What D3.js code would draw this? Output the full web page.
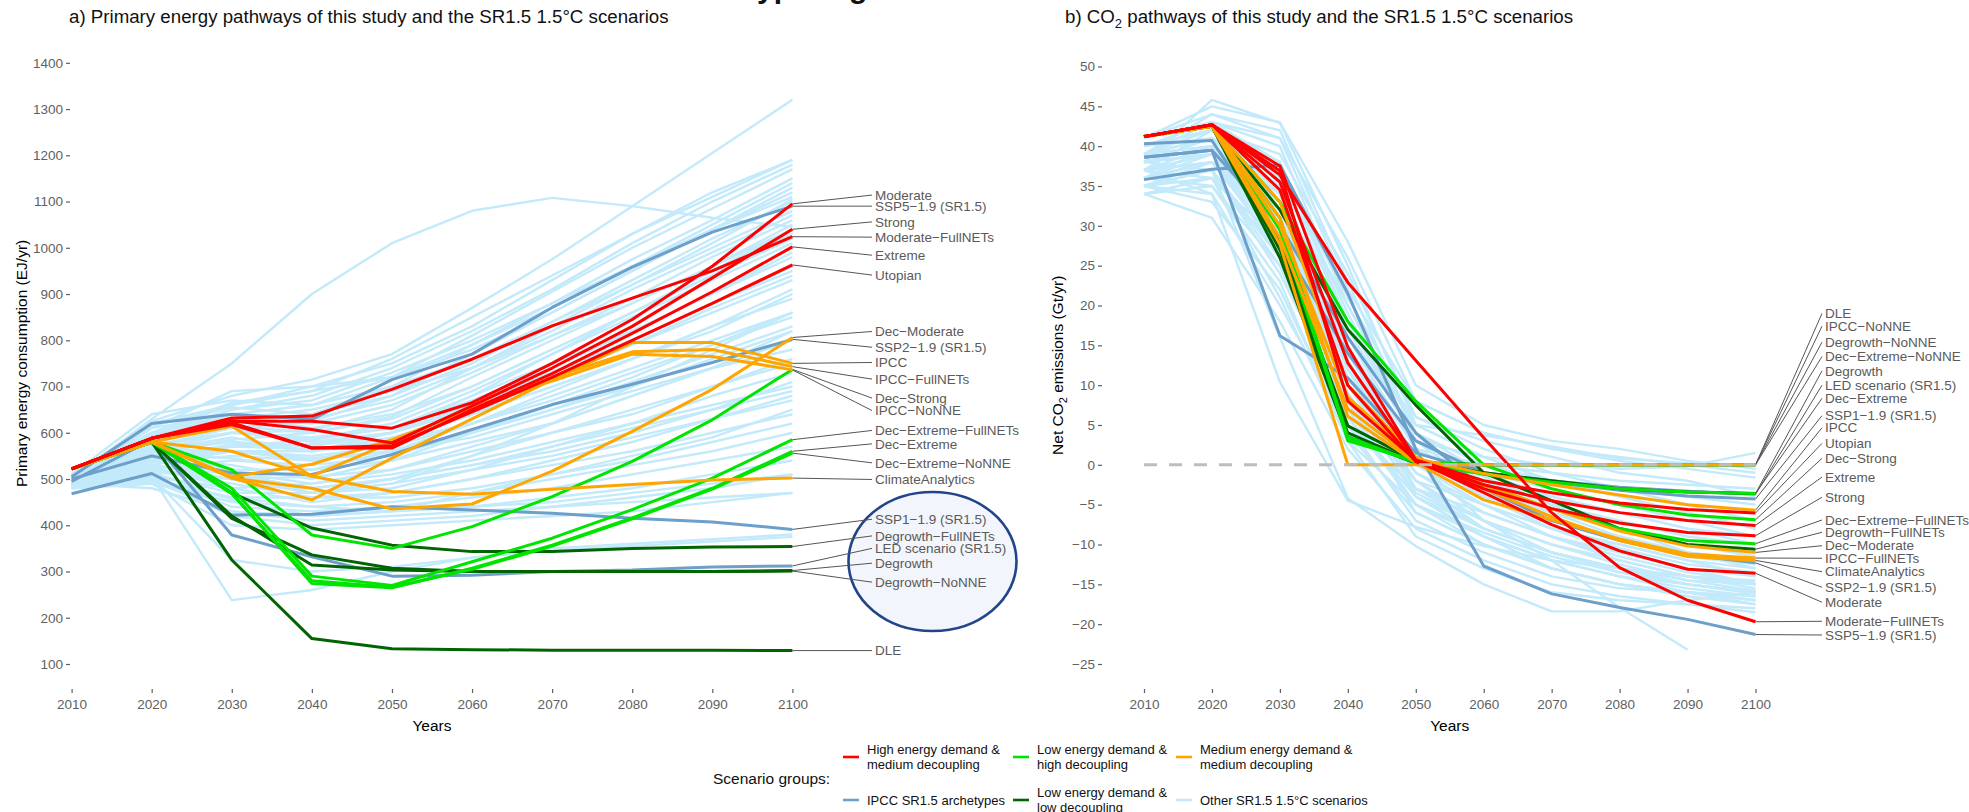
<!DOCTYPE html>
<html><head><meta charset="utf-8">
<script src="https://cdn.jsdelivr.net/npm/d3@7"></script>
<style>
body{margin:0;background:#fff;}
svg text{font-family:"Liberation Sans",Arial,Helvetica,sans-serif;}
</style>
</head><body>
<svg id="chart" width="1969" height="812"></svg>
<script>
// ---------------- DATA ----------------
const years = [2010,2020,2030,2040,2050,2060,2070,2080,2090,2100];
const energyTicks = [100,200,300,400,500,600,700,800,900,1000,1100,1200,1300,1400];
const co2Ticks = [-25,-20,-15,-10,-5,0,5,10,15,20,25,30,35,40,45,50];

const groupKeys = ["high","lowHigh","medium","ipcc","lowLow","other"];
const groupLabels = [["High energy demand &","medium decoupling"],["Low energy demand &","high decoupling"],["Medium energy demand &","medium decoupling"],["IPCC SR1.5 archetypes"],["Low energy demand &","low decoupling"],["Other SR1.5 1.5°C scenarios"]];
const groupColors = ["#ff0000","#00e400","#ffa500","#6c9fc9","#006400","#c3eafa"];

const scenarioNames = ["Moderate","Strong","Moderate−FullNETs","Extreme","Utopian",
  "Dec−Moderate","IPCC","IPCC−FullNETs","IPCC−NoNNE","ClimateAnalytics",
  "Dec−Strong","Dec−Extreme","Dec−Extreme−FullNETs","Dec−Extreme−NoNNE",
  "Degrowth","Degrowth−FullNETs","Degrowth−NoNNE","DLE",
  "SSP1−1.9 (SR1.5)","SSP2−1.9 (SR1.5)","SSP5−1.9 (SR1.5)","LED scenario (SR1.5)"];
const scenarioGroup = ["high","high","high","high","high",
  "medium","medium","medium","medium","medium",
  "lowHigh","lowHigh","lowHigh","lowHigh",
  "lowLow","lowLow","lowLow","lowLow",
  "ipcc","ipcc","ipcc","ipcc"];

// Primary energy (EJ/yr), 2010..2100
const energyValues = [
  [522,588,625,625,610,665,750,845,960,1095],
  [522,588,626,607,578,658,740,830,935,1040],
  [522,588,632,636,694,759,831,891,950,1024],
  [522,588,622,567,567,650,728,815,905,1002],
  [522,588,618,567,572,645,720,800,880,963],
  [522,580,502,480,435,446,517,603,694,806],
  [522,580,502,455,545,630,715,795,795,750],
  [522,580,505,532,585,650,720,775,780,743],
  [522,580,614,506,580,655,712,770,765,736],
  [522,580,560,506,473,467,478,488,498,502],
  [522,580,520,379,350,397,462,538,628,737],
  [522,580,470,274,265,307,357,416,480,560],
  [522,580,480,290,270,321,372,434,502,585],
  [522,580,468,280,266,305,355,414,478,556],
  [522,580,415,336,307,300,300,300,300,302],
  [522,580,470,394,357,343,343,350,353,354],
  [522,580,420,314,303,300,300,300,300,301],
  [522,580,325,155,133,131,130,130,130,129],
  [468,512,422,424,440,433,426,415,407,391],
  [500,550,513,510,553,607,661,705,752,802],
  [505,620,640,629,715,770,871,958,1034,1090],
  [495,585,379,332,290,292,300,303,310,312]
];
// Net CO2 (Gt/yr), 2010..2100
const co2Values = [
  [41.2,42.7,37.5,14.8,0.6,-3.5,-7.5,-10.8,-13.1,-13.6],
  [41.2,42.7,34.5,10,0.4,-3.0,-5.5,-7.3,-8.5,-8.9],
  [41.2,42.7,36.4,22.9,13.1,3.4,-6.0,-12.9,-17.0,-19.7],
  [41.2,42.7,35.5,12.8,0.5,-2.5,-4.5,-6.0,-7.0,-7.6],
  [41.2,42.7,36.9,8,0.6,-2.0,-3.5,-4.8,-5.6,-6.05],
  [41.2,42.5,33,10,1.0,-2.5,-5.5,-8.3,-10.2,-11.0],
  [41.2,42.5,30,8.5,0.8,-1.1,-2.5,-3.8,-5.0,-5.7],
  [41.2,42.5,31,6.1,0.3,-4.4,-6.9,-9.3,-11.2,-11.7],
  [41.2,42.5,27.7,0,0,0,0,0,0,0],
  [41.2,42.5,28.5,7,0.5,-3,-6.5,-9.5,-11.5,-12.0],
  [41.2,42.5,33,18,8,0,-3,-5,-6.3,-6.9],
  [41.2,42.5,30,3.5,0.3,-1.2,-2.2,-3.0,-3.4,-3.6],
  [41.2,42.5,31,3.0,0.5,-2.5,-5.5,-8.0,-9.5,-9.9],
  [41.2,42.5,29.5,3.2,0.3,0,0,0,0,0],
  [41.2,42.5,28,4.9,0.5,-1.0,-2.0,-3.0,-3.4,-3.6],
  [41.2,42.5,32,17,7.5,-1.0,-4.5,-8,-10,-10.6],
  [41.2,42.5,27,4,0.3,0,0,0,0,0],
  [41.2,42.5,26,3.5,0.2,0,0,0,0,0],
  [40.3,40.7,28,14,3,-1,-2.2,-3.2,-3.9,-4.3],
  [38.6,39.5,30,16,4,-3,-7,-9.5,-11.3,-12.3],
  [35.8,37.1,37.6,21.5,2,-12.7,-16.2,-17.9,-19.4,-21.3],
  [38.6,39.5,16.2,10.9,1.5,-1.0,-2.0,-2.8,-3.3,-3.7]
];

// Where the repelled end labels sit, in each panel's own axis units
const energyLabelAt = [1114,1056,1023,984,941,819,752,716,648,499,675,576,605,535,318,377,277,129,413,785,1090,350];
const co2LabelAt = [-17.25,-4.07,-19.64,-1.53,2.7,-10.15,4.66,-11.73,17.4,-13.41,0.82,8.35,-6.92,13.6,11.8,-8.47,15.4,19.0,6.17,-15.37,-21.36,10.0];

// Other SR1.5 1.5°C scenarios
const otherEnergy = [
  [500,630,750,900,1010,1080,1108,1090,1065,1045],
  [505,625,680,715,770,870,975,1090,1205,1320],
  [510,600,665,690,760,850,940,1030,1110,1190],
  [505,590,640,660,720,810,905,1000,1085,1170],
  [500,580,620,640,700,790,880,975,1060,1150],
  [495,570,610,625,680,770,860,950,1040,1130],
  [500,560,600,605,650,740,830,920,1010,1105],
  [490,555,585,600,635,720,800,880,960,1050],
  [500,540,570,585,620,690,770,850,930,1010],
  [495,545,575,575,600,660,730,800,880,960],
  [505,560,590,560,580,640,700,760,820,900],
  [500,530,560,550,570,620,680,740,800,860],
  [490,520,540,530,550,600,650,710,770,830],
  [495,525,520,520,540,580,620,680,740,800],
  [500,540,560,545,560,590,640,690,740,780],
  [490,515,500,505,520,560,600,640,700,750],
  [485,505,480,490,510,540,580,620,660,700],
  [495,530,510,480,500,530,570,610,650,690],
  [490,510,470,470,490,520,550,590,630,670],
  [485,500,460,460,470,500,530,560,600,640],
  [500,520,490,460,460,480,510,540,580,620],
  [480,495,450,440,450,470,500,530,560,600],
  [490,505,440,430,440,460,480,510,540,570],
  [485,495,430,420,430,440,460,480,510,540],
  [490,500,420,400,410,420,440,460,480,510],
  [480,490,400,390,400,410,420,430,450,470],
  [495,505,238,260,300,330,350,360,370,380],
  [490,505,325,300,310,330,345,355,365,375],
  [505,610,690,700,720,780,860,950,1040,1120],
  [510,640,670,660,700,760,840,930,1020,1100],
  [500,615,655,640,680,750,840,920,1000,1080],
  [495,585,630,650,690,740,810,880,960,1040],
  [505,600,640,610,640,700,780,860,940,1020],
  [500,575,600,590,610,680,750,820,900,980],
  [490,565,560,540,580,640,720,790,870,940],
  [505,555,545,520,560,620,690,760,830,910],
  [495,550,530,500,540,600,660,720,790,860],
  [500,540,515,490,520,570,620,680,740,820],
  [485,520,500,470,480,520,570,620,680,730],
  [490,525,480,450,470,500,540,580,630,680],
  [500,560,520,470,490,550,620,700,780,860],
  [495,545,510,480,500,530,560,600,650,710],
  [510,600,610,580,600,660,730,800,880,950],
  [500,590,650,680,740,820,910,1010,1100,1180],
  [505,620,660,700,750,830,930,1030,1120,1190],
  [495,570,580,560,600,680,770,860,950,1040],
  [490,480,430,410,420,430,440,450,460,470],
  [480,490,460,440,430,440,450,470,490,510],
  [505,600,650,670,730,800,880,960,1050,1140],
  [500,595,630,620,660,730,810,890,980,1060],
  [495,580,615,600,630,700,780,860,940,1030],
  [500,570,600,585,610,670,740,820,900,990],
  [505,560,580,570,600,650,720,790,860,930],
  [490,550,560,560,590,640,700,760,830,890],
  [500,545,570,565,580,620,670,730,790,850],
  [495,535,550,540,560,600,650,700,760,820],
  [500,600,660,690,720,790,870,960,1040,1110],
  [505,610,640,630,670,740,820,910,990,1070],
  [490,530,500,470,500,550,600,650,700,760],
  [495,515,455,420,430,470,510,550,590,650]
];
const otherCO2 = [
  [38,45.8,42.9,25,5,3.7,2.3,0.8,0.2,0],
  [39,44,41,22,8,4,2,0.5,-0.5,-1.6],
  [37,42,38,18,3,1,0,-0.5,-0.2,1.5],
  [36,40,35,15,2,0,-1,-2,-2.5,-3],
  [35,38,30,12,1,-2,-4,-6,-8,-10],
  [34,36,28,8,-2,-5,-8,-10,-12,-14],
  [36,35,25,6,-4,-8,-11,-13,-15,-16],
  [35,33,22,4,-6,-10,-13,-15,-16,-17],
  [34,31,18,2,-8,-12,-15,-16.5,-17.5,-18],
  [37,34,10.4,-4.5,-7.8,-10.2,-12,-13,-14,-15],
  [38,37,16,-4.2,-10.2,-15,-18.4,-18.4,-17,-16],
  [40,41,33,13,0.5,-7,-12,-17.9,-23.2,null],
  [41,43,40,20,5,1,-2,-4,-6,-8],
  [40,42,39,24,6,2,-1,-3,-5,-7],
  [39,41,36,20,4,-1,-4,-6,-8,-9],
  [38,40,34,17,3,-3,-6,-8,-10,-11],
  [37,39,32,14,1,-4,-7,-9,-11,-12],
  [36,38,29,11,-1,-6,-9,-11,-13,-14],
  [35,37,26,9,-3,-7,-10,-12,-14,-15],
  [37,38,27,10,-2,-8,-11,-13,-15,-16],
  [38,39,31,13,0,-5,-8,-10,-12,-13],
  [39,41,35,16,2,-2,-5,-7,-9,-10],
  [40,43,38,19,3,-1,-3,-5,-7,-9],
  [41,44,42,23,4,0,-2,-3,-4,-5],
  [36,37,24,7,-5,-9,-12,-14,-15,-16],
  [35,34,20,5,-7,-11,-14,-15.5,-16,-17],
  [34,35,23,3,-9,-13,-16,-17,-17.5,-18.5],
  [39,42,37,21,6,3,1,-1,-2,-4],
  [38,41,36,18,5,1,-2,-4,-6,-8],
  [37,40,33,16,2,-2,-5,-8,-11,-13],
  [36,39,30,14,0,-4,-8,-11,-13,-15],
  [40,42,34,12,-3,-8,-11,-13,-14,-15],
  [39,43,41,26,8,4,2,1,0,-1],
  [38,40,28,9,-4,-9,-13,-15,-16,-17],
  [35,36,27,8,-6,-10,-13,-15,-16,-16.5],
  [36,38,31,15,1,-3,-6,-9,-11,-12],
  [37,36,21,3,-5,-9,-12,-14,-16,-17.5],
  [41,45,43,28,10,5,3,2,0.5,-0.5],
  [38,39,26,5,-3,-6,-9,-12,-14,-15.5],
  [39,40,30,10,-1,-5,-9,-12,-14,-14.5],
  [37,38,28,9,-4,-9,-12,-14,-15.5,-16.5],
  [36,37,26,7,-5,-10,-13,-15,-16.5,-17.5],
  [38,39,29,10,-3,-7,-10,-12.5,-14.5,-15.8],
  [39,40,31,12,-1,-6,-9,-11.5,-13.5,-14.8],
  [37,39,30,11,-2,-7,-11,-13.5,-15,-16],
  [35,37,25,6,-5,-8.5,-11.5,-13.5,-15,-16.2],
  [38,40,32,13,0,-4,-7.5,-10.5,-12.5,-13.5],
  [36,38,27,8,-3.5,-8,-11,-13,-14.5,-15],
  [40,42,36,18,3,-1.5,-5,-8,-10,-11.5],
  [39,41,33,14,1,-3,-6.5,-9.5,-11.5,-12.5]
];

// ---------------- DRAWING ----------------
const svg = d3.select("#chart");
const colorOf = d3.scaleOrdinal(groupKeys, groupColors);
const drawOrder = ["ipcc","lowLow","lowHigh","medium","high"];
const tickColor = "#5f5f5f";

// truncated figure title at the very top (only descenders visible)
svg.append("text").attr("x",757).attr("y",-2).attr("font-size",30).attr("font-weight","bold").attr("fill","#111").text("yp");
svg.append("text").attr("x",849).attr("y",-2).attr("font-size",30).attr("font-weight","bold").attr("fill","#111").text("g");

function panel(cfg){
  const g = svg.append("g");
  const x = cfg.x, y = cfg.y;
  const t = g.append("text").attr("x",cfg.titleX).attr("y",23).attr("font-size",18.7).attr("fill","#111");
  cfg.title(t);
  const ya = g.append("g").attr("transform",`translate(${cfg.yAxisX},0)`)
    .call(d3.axisLeft(y).tickValues(cfg.yTicks).tickSize(4).tickPadding(3).tickFormat(d3.format("d")));
  ya.select(".domain").remove();
  ya.selectAll("line").attr("stroke",tickColor).attr("stroke-width",1.2);
  ya.selectAll("text").attr("fill",tickColor).attr("font-size",13.5).attr("font-family","Liberation Sans, Arial, sans-serif");
  const xa = g.append("g").attr("transform",`translate(0,689)`)
    .call(d3.axisBottom(x).tickValues(years).tickSize(4).tickPadding(6).tickFormat(d3.format("d")));
  xa.select(".domain").remove();
  xa.selectAll("line").attr("stroke",tickColor).attr("stroke-width",1.2);
  xa.selectAll("text").attr("fill",tickColor).attr("font-size",13.5).attr("font-family","Liberation Sans, Arial, sans-serif");
  g.append("text").attr("x",(x.range()[0]+x.range()[1])/2).attr("y",731).attr("text-anchor","middle")
    .attr("font-size",15.5).attr("fill","#000").text("Years");
  const yl = g.append("text").attr("transform",`translate(${cfg.yLabelX},${(y.range()[0]+y.range()[1])/2}) rotate(-90)`)
    .attr("text-anchor","middle").attr("dy","0.35em").attr("font-size",15.5).attr("fill","#000");
  cfg.yLabel(yl);

  const line = d3.line().defined(d=>d[1]!==null).x(d=>x(d[0])).y(d=>y(d[1]));
  g.append("g").selectAll("path").data(cfg.other).join("path")
    .attr("d",v=>line(v.map((d,i)=>[years[i],d])))
    .attr("fill","none").attr("stroke",colorOf("other")).attr("stroke-width",2.4).attr("stroke-linejoin","round");
  if (cfg.ellipse) cfg.ellipse(g);
  const n = scenarioNames.length;
  const x100 = x(2100);
  const lab = g.append("g");
  for (let i=0;i<n;i++){
    const vEnd = cfg.values[i][cfg.values[i].length-1];
    lab.append("line").attr("x1",x100).attr("y1",y(vEnd)).attr("x2",cfg.labelX-3).attr("y2",y(cfg.labelAt[i]))
      .attr("stroke","#555").attr("stroke-width",1);
    lab.append("text").attr("x",cfg.labelX).attr("y",y(cfg.labelAt[i])).attr("dy","0.35em")
      .attr("font-size",13.5).attr("fill","#5a5a5a").text(scenarioNames[i]);
  }
  drawOrder.forEach(gr=>{
    const idx = d3.range(n).filter(i=>scenarioGroup[i]===gr);
    g.append("g").selectAll("path").data(idx).join("path")
      .attr("d",i=>line(cfg.values[i].map((d,k)=>[years[k],d])))
      .attr("fill","none").attr("stroke",colorOf(gr)).attr("stroke-width",3).attr("stroke-linejoin","round");
  });
  if (cfg.after) cfg.after(g);
}

const xE = d3.scaleLinear([2010,2100],[71.6,792.4]);
const yE = d3.scaleLinear([100,1400],[664,62.8]);
panel({
  x:xE, y:yE, yTicks:energyTicks, yAxisX:70, yLabelX:22, titleX:69,
  title:t=>t.text("a) Primary energy pathways of this study and the SR1.5 1.5°C scenarios"),
  yLabel:t=>t.text("Primary energy consumption (EJ/yr)"),
  other:otherEnergy, values:energyValues, labelAt:energyLabelAt, labelX:875,
  ellipse:g=>g.append("ellipse").attr("cx",932.5).attr("cy",561.5).attr("rx",84).attr("ry",69.5)
    .attr("fill","#f2f5fb").attr("stroke","#22458a").attr("stroke-width",2.6)
});

const xC = d3.scaleLinear([2010,2100],[1144,1755.5]);
const yC = d3.scaleLinear([-25,50],[664,66.5]);
panel({
  x:xC, y:yC, yTicks:co2Ticks, yAxisX:1102, yLabelX:1058, titleX:1065,
  title:t=>{t.append("tspan").text("b) CO");t.append("tspan").attr("font-size",13).attr("dy",5).text("2");
            t.append("tspan").attr("dy",-5).text(" pathways of this study and the SR1.5 1.5°C scenarios");},
  yLabel:t=>{t.append("tspan").text("Net CO");t.append("tspan").attr("font-size",11).attr("dy",4).text("2");
             t.append("tspan").attr("dy",-4).text(" emissions (Gt/yr)");},
  other:otherCO2, values:co2Values, labelAt:co2LabelAt, labelX:1825,
  after:g=>g.append("line").attr("x1",xC(2010)).attr("x2",xC(2100)).attr("y1",yC(0)).attr("y2",yC(0))
    .attr("stroke","#bdbdbd").attr("stroke-width",3).attr("stroke-dasharray","13,12")
});

// legend
const leg = svg.append("g");
leg.append("text").attr("x",713).attr("y",779).attr("dy","0.35em").attr("font-size",15.5).attr("fill","#111").text("Scenario groups:");
const legX = [843,1013,1176];
const legY = [757,800];
groupKeys.forEach((k,i)=>{
  const cx = legX[i%3], cy = legY[Math.floor(i/3)];
  leg.append("line").attr("x1",cx).attr("x2",cx+16).attr("y1",cy).attr("y2",cy)
    .attr("stroke",colorOf(k)).attr("stroke-width",2.6);
  const lines = groupLabels[i];
  lines.forEach((s,j)=>{
    leg.append("text").attr("x",cx+24).attr("y",cy + (j-(lines.length-1)/2)*14.5).attr("dy","0.35em")
      .attr("font-size",13).attr("fill","#111").text(s);
  });
});
</script>
</body></html>
